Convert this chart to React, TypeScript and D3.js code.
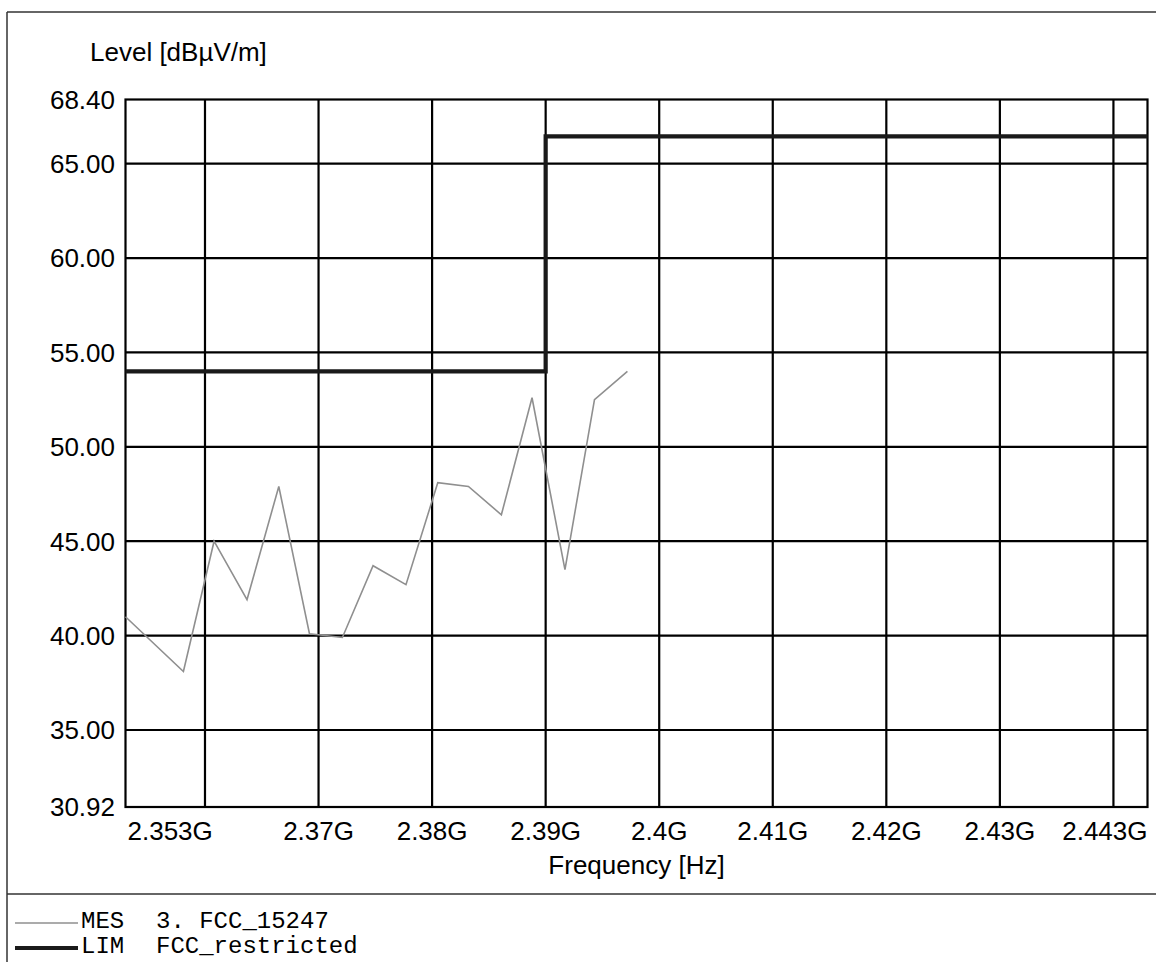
import React, { useEffect, useRef } from "react";
import * as d3 from "d3";

// measured trace (MES 3. FCC_15247), frequency in GHz, level in dBµV/m
const mesFreq = [
  2.353, 2.3581, 2.3608, 2.3637, 2.3665, 2.3692, 2.3721, 2.3748, 2.3777,
  2.3805, 2.3832, 2.3861, 2.3888, 2.3917, 2.3943, 2.3972,
];
const mesLevel = [
  41.0, 38.1, 45.0, 41.9, 47.9, 40.1, 39.9, 43.7, 42.7, 48.1, 47.9, 46.4, 52.6,
  43.5, 52.5, 54.0,
];

// limit line (LIM FCC_restricted)
const limFreq = [2.353, 2.39, 2.39, 2.443];
const limLevel = [54.0, 54.0, 66.45, 66.45];

const yDomain: [number, number] = [30.92, 68.4];
const xDomain: [number, number] = [2.353, 2.443];
const yTicks = [68.4, 65, 60, 55, 50, 45, 40, 35, 30.92];
const yGrid = [65, 60, 55, 50, 45, 40, 35];
const xGrid = [2.36, 2.37, 2.38, 2.39, 2.4, 2.41, 2.42, 2.43, 2.44];
const xLabels = [2.353, 2.37, 2.38, 2.39, 2.4, 2.41, 2.42, 2.43, 2.443];

const legendItems = [
  { key: "MES", name: "3. FCC_15247", color: "#8f8f8f", width: 1.6 },
  { key: "LIM", name: "FCC_restricted", color: "#1a1a1a", width: 4.2 },
];

const App: React.FC = () => {
  const svgRef = useRef<SVGSVGElement | null>(null);

  useEffect(() => {
    const width = 1156;
    const height = 966;
    const plot = { left: 125.5, right: 1147.5, top: 99.5, bottom: 807 };
    const sansFont = "Arial, 'Liberation Sans', sans-serif";
    const monoFont = "'Liberation Mono', monospace";

    const x = d3.scaleLinear().domain(xDomain).range([plot.left, plot.right]);
    const y = d3.scaleLinear().domain(yDomain).range([plot.bottom, plot.top]);

    const svg = d3
      .select(svgRef.current)
      .attr("width", width)
      .attr("height", height)
      .attr("viewBox", `0 0 ${width} ${height}`);

    svg.selectAll("*").remove();

    svg.append("rect").attr("width", width).attr("height", height).attr("fill", "#fff");

    // outer frame + legend separator
    const frame = svg.append("g").attr("stroke", "#333").attr("stroke-width", 1.5);
    frame.append("line").attr("x1", 7).attr("x2", width).attr("y1", 12).attr("y2", 12);
    frame.append("line").attr("x1", 7).attr("x2", 7).attr("y1", 12).attr("y2", 962);
    frame.append("line").attr("x1", 7).attr("x2", width).attr("y1", 894).attr("y2", 894);

    // grid
    const grid = svg.append("g").attr("stroke", "#000").attr("stroke-width", 2.2);
    grid
      .selectAll("line.h")
      .data(yGrid)
      .join("line")
      .attr("class", "h")
      .attr("x1", plot.left)
      .attr("x2", plot.right)
      .attr("y1", (d) => y(d))
      .attr("y2", (d) => y(d));
    grid
      .selectAll("line.v")
      .data(xGrid)
      .join("line")
      .attr("class", "v")
      .attr("x1", (d) => x(d))
      .attr("x2", (d) => x(d))
      .attr("y1", plot.top)
      .attr("y2", plot.bottom);

    svg
      .append("rect")
      .attr("x", plot.left)
      .attr("y", plot.top)
      .attr("width", plot.right - plot.left)
      .attr("height", plot.bottom - plot.top)
      .attr("fill", "none")
      .attr("stroke", "#000")
      .attr("stroke-width", 2.2);

    // y tick labels
    svg
      .append("g")
      .selectAll("text")
      .data(yTicks)
      .join("text")
      .attr("x", 115)
      .attr("y", (d) => y(d))
      .attr("dy", "0.36em")
      .attr("text-anchor", "end")
      .style("font-family", sansFont)
      .style("font-size", "26px")
      .attr("fill", "#000")
      .text((d) => d.toFixed(2));

    // x tick labels
    svg
      .append("g")
      .selectAll("text")
      .data(xLabels)
      .join("text")
      .attr("x", (d, i) => (i === 0 ? x(d) + 2 : x(d)))
      .attr("y", 840)
      .attr("text-anchor", (d, i) =>
        i === 0 ? "start" : i === xLabels.length - 1 ? "end" : "middle"
      )
      .style("font-family", sansFont)
      .style("font-size", "26px")
      .attr("fill", "#000")
      .text((d) => `${+d.toFixed(3)}G`);

    svg
      .append("text")
      .attr("x", 90)
      .attr("y", 61)
      .style("font-family", sansFont)
      .style("font-size", "26px")
      .attr("fill", "#000")
      .text("Level [dBµV/m]");

    svg
      .append("text")
      .attr("x", (plot.left + plot.right) / 2)
      .attr("y", 874)
      .attr("text-anchor", "middle")
      .style("font-family", sansFont)
      .style("font-size", "26px")
      .attr("fill", "#000")
      .text("Frequency [Hz]");

    const line = d3
      .line<{ f: number; v: number }>()
      .x((d) => x(d.f))
      .y((d) => y(d.v));

    // limit line
    const limData = limFreq.map((f, i) => ({ f, v: limLevel[i] }));
    svg
      .append("path")
      .datum(limData)
      .attr("fill", "none")
      .attr("stroke", legendItems[1].color)
      .attr("stroke-width", legendItems[1].width)
      .attr("d", line);

    // measurement trace
    const mesData = mesFreq.map((f, i) => ({ f, v: mesLevel[i] }));
    svg
      .append("path")
      .datum(mesData)
      .attr("fill", "none")
      .attr("stroke", legendItems[0].color)
      .attr("stroke-width", legendItems[0].width)
      .attr("d", line);

    // legend
    const legend = svg
      .append("g")
      .selectAll("g")
      .data(legendItems)
      .join("g")
      .attr("transform", (d, i) => `translate(0,${923 + i * 25})`);
    legend
      .append("line")
      .attr("x1", 15)
      .attr("x2", 78)
      .attr("stroke", (d) => d.color)
      .attr("stroke-width", (d) => d.width);
    legend
      .append("text")
      .attr("x", 81)
      .attr("y", 5)
      .style("font-family", monoFont)
      .style("font-size", "24px")
      .attr("fill", "#000")
      .text((d) => d.key);
    legend
      .append("text")
      .attr("x", 156)
      .attr("y", 5)
      .style("font-family", monoFont)
      .style("font-size", "24px")
      .attr("fill", "#000")
      .text((d) => d.name);
  }, []);

  return (
    <div style={{ position: "absolute", left: 0, top: 0 }}>
      <svg ref={svgRef} style={{ display: "block" }} />
    </div>
  );
};

export default App;
